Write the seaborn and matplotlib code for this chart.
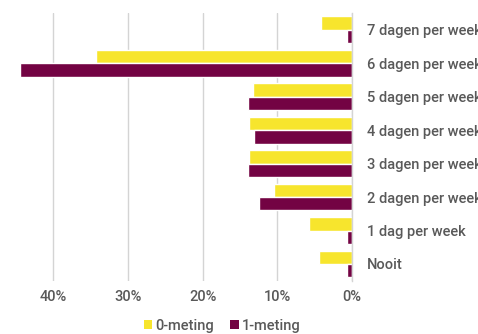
import matplotlib
matplotlib.use("Agg")
import matplotlib.pyplot as plt
import seaborn as sns
import pandas as pd
from matplotlib.patches import Patch
from matplotlib.ticker import FuncFormatter

categories = ["7 dagen per week", "6 dagen per week", "5 dagen per week", "4 dagen per week",
              "3 dagen per week", "2 dagen per week", "1 dag per week", "Nooit"]
series_names = ["0-meting", "1-meting"]
meting0 = [4.2, 34.3, 13.2, 13.8, 13.8, 10.5, 5.8, 4.4]
meting1 = [0.7, 44.4, 13.9, 13.1, 13.9, 12.5, 0.7, 0.7]
xticks = [40, 30, 20, 10, 0]

colors = ["#F7E52D", "#730343"]
text_color = "#595959"

df = pd.DataFrame({
    "cat": categories * 2,
    "serie": [series_names[0]] * len(categories) + [series_names[1]] * len(categories),
    "val": meting0 + meting1,
})

sns.set_theme(style="white")
plt.rcParams["font.family"] = ["Roboto", "DejaVu Sans"]

fig = plt.figure(figsize=(4.78, 3.34), dpi=100)
ax = fig.add_axes([16 / 478, (334 - 280.7) / 334, (352 - 16) / 478, (280.7 - 13) / 334])

sns.barplot(data=df, y="cat", x="val", hue="serie", order=categories, hue_order=series_names,
            palette=colors, orient="h", width=0.8, saturation=1, ax=ax, legend=False)

ax.set_xlim(45, 0)
ax.set_ylim(7.5, -0.5)
ax.set_xticks(xticks)
ax.xaxis.set_major_formatter(FuncFormatter(lambda v, p: f"{int(v)}%"))
ax.grid(axis="x", color="#D4D4D4", linewidth=1)
ax.set_axisbelow(True)
for s in ["top", "left", "bottom"]:
    ax.spines[s].set_visible(False)
ax.spines["right"].set_color("#D4D4D4")
ax.spines["right"].set_linewidth(1)
ax.yaxis.tick_right()
ax.tick_params(axis="y", length=0, pad=11, labelsize=10.5, labelcolor=text_color)
ax.tick_params(axis="x", length=0, pad=7, labelsize=10.5, labelcolor=text_color)
for lab in ax.get_yticklabels() + ax.get_xticklabels():
    lab.set_fontweight("medium")
ax.set_xlabel("")
ax.set_ylabel("")

handles = [Patch(facecolor=c, edgecolor="none") for c in colors]
leg = fig.legend(handles, series_names, loc="center", bbox_to_anchor=(222 / 478, 1 - 326 / 334),
                 ncol=2, frameon=False, handlelength=0.6, handleheight=0.6, handletextpad=0.2,
                 columnspacing=1.1, fontsize=10.5)
for t in leg.get_texts():
    t.set_color(text_color)
    t.set_fontweight("medium")

fig.savefig("out.png", dpi=100)
